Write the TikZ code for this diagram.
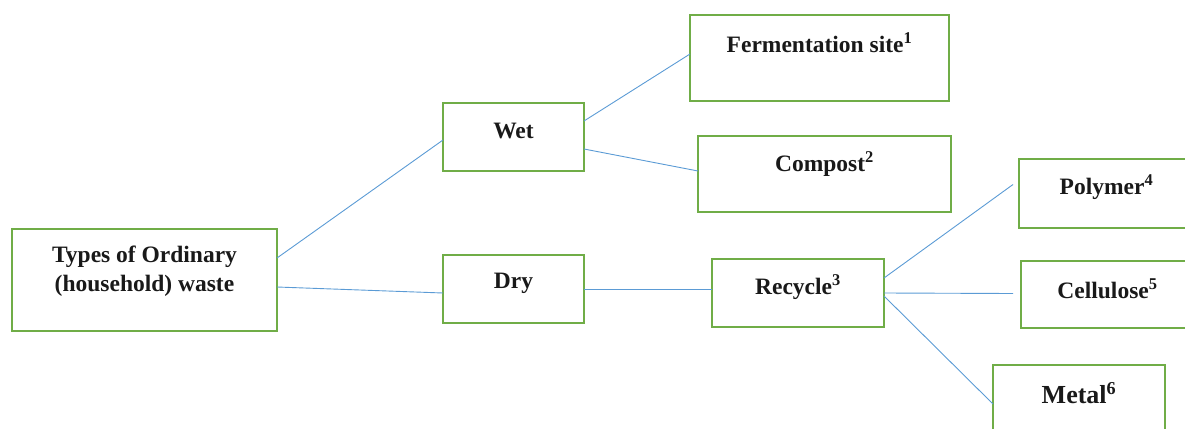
\documentclass[tikz,border=0pt]{standalone}
\usepackage{fontspec}
\setmainfont{Liberation Serif}
\definecolor{boxgreen}{RGB}{112,173,71}
\definecolor{linkblue}{RGB}{91,155,213}
\newcommand{\refno}[1]{\textsuperscript{#1}}

\begin{document}
\begin{tikzpicture}[x=1pt, y=-1pt,
                    box/.style = {draw=boxgreen, line width=2.5pt, fill=white, anchor=north west,
                                  inner sep=0pt, outer sep=0pt},
                    txt/.style = {anchor=center, yshift=-28pt, align=center, text=black!90,
                                  font=\fontsize{23.5}{29}\selectfont\bfseries},
                    every edge/.style = {draw=linkblue, line width=0.9pt}]
            \useasboundingbox (0,0) rectangle (1185,428);
            \clip (0,0) rectangle (1185,428);

            % left and middle column
            \node (types) [box, minimum width=265pt, minimum height=102pt,
                           label={[txt, yshift=-14pt]north:Types of Ordinary\\(household) waste}] at (12,229) {};
            \node (wet)   [box, minimum width=141pt, minimum height=68pt, label={[txt]north:Wet}] at (443,103) {};
            \node (dry)   [box, minimum width=141pt, minimum height=68pt, label={[txt]north:Dry}] at (443,255) {};

            % right column
            \node (ferm)    [box, minimum width=259pt, minimum height=86pt, label={[txt]north:Fermentation site\refno{1}}] at (690,15) {};
            \node (compost) [box, minimum width=253pt, minimum height=76pt, label={[txt]north:Compost\refno{2}}] at (698,136) {};
            \node (recycle) [box, minimum width=172pt, minimum height=68pt, label={[txt]north:Recycle\refno{3}}] at (712,259) {};
            \node (polymer) [box, minimum width=175pt, minimum height=69pt, label={[txt]north:Polymer\refno{4}}] at (1019,159) {};
            \node (cellu)   [box, minimum width=173pt, minimum height=67pt, label={[txt]north:Cellulose\refno{5}}] at (1021,261) {};
            \node (metal)   [box, minimum width=172pt, minimum height=70pt,
                             label={[txt, font=\fontsize{26}{30}\selectfont\bfseries]north:Metal\refno{6}}] at (993,365) {};

            \draw ([yshift=22pt]types.east) edge ([yshift=-3pt]wet.west);
            \draw ([yshift=-7pt]types.east) edge ([yshift=-4pt]dry.west);
            \draw ([yshift=16pt]wet.east)   edge ([yshift=4pt]ferm.west);
            \draw ([yshift=-12pt]wet.east)  edge ([yshift=3pt]compost.west);
            \draw (dry.east)                edge ([yshift=4pt]recycle.west);
            \draw ([yshift=15pt]recycle.east) edge ([xshift=-6pt, yshift=9pt]polymer.west);
            \draw (recycle.east)              edge ([xshift=-8pt, yshift=1pt]cellu.west);
            \draw ([yshift=-3pt]recycle.east) edge ([yshift=-4pt]metal.west);
\end{tikzpicture}
\end{document}
